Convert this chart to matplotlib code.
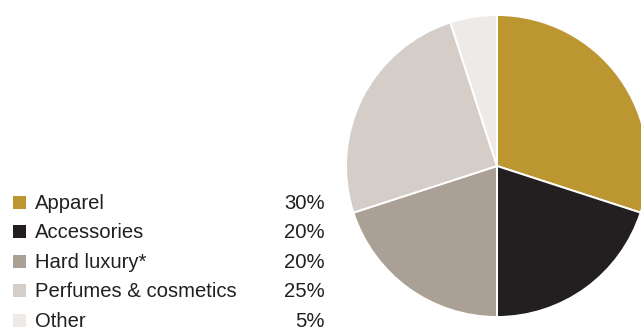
import matplotlib.pyplot as plt
from matplotlib.patches import Rectangle

plt.rcParams['font.family'] = ['Liberation Sans', 'DejaVu Sans']

categorias = ["Apparel", "Accessories", "Hard luxury*", "Perfumes & cosmetics", "Other"]
porcentajes = [30, 20, 20, 25, 5]
colores = ["#BC9631", "#231F20", "#ABA095", "#D5CDC8", "#EEEAE8"]

W, H = 641, 332
fig = plt.figure(figsize=(W / 100, H / 100), dpi=100)

# tarta: centro (497, 166) px, radio 151 px
cx, cy, r = 497, 166, 151
ax = fig.add_axes([(cx - r) / W, (H - cy - r) / H, 2 * r / W, 2 * r / H])
ax.pie(porcentajes, colors=colores, startangle=90, counterclock=False,
       wedgeprops=dict(edgecolor="white", linewidth=1.4))
ax.set_xlim(-1, 1)
ax.set_ylim(-1, 1)
ax.set_aspect("equal")
ax.axis("off")

# leyenda a mano con los valores a la derecha
base0, paso = 209, 29.4
for i, (cat, pct, col) in enumerate(zip(categorias, porcentajes, colores)):
    y = base0 + i * paso
    fig.patches.append(Rectangle((13 / W, (H - y) / H), 13 / W, 13 / H,
                                 transform=fig.transFigure, facecolor=col,
                                 edgecolor="none"))
    fig.text(35 / W, (H - y) / H, cat, fontsize=14.6, color="#231F20",
             va="baseline", ha="left")
    fig.text(325 / W, (H - y) / H, f"{pct}%", fontsize=14.6, color="#231F20",
             va="baseline", ha="right")

fig.savefig("out.png", dpi=100)
